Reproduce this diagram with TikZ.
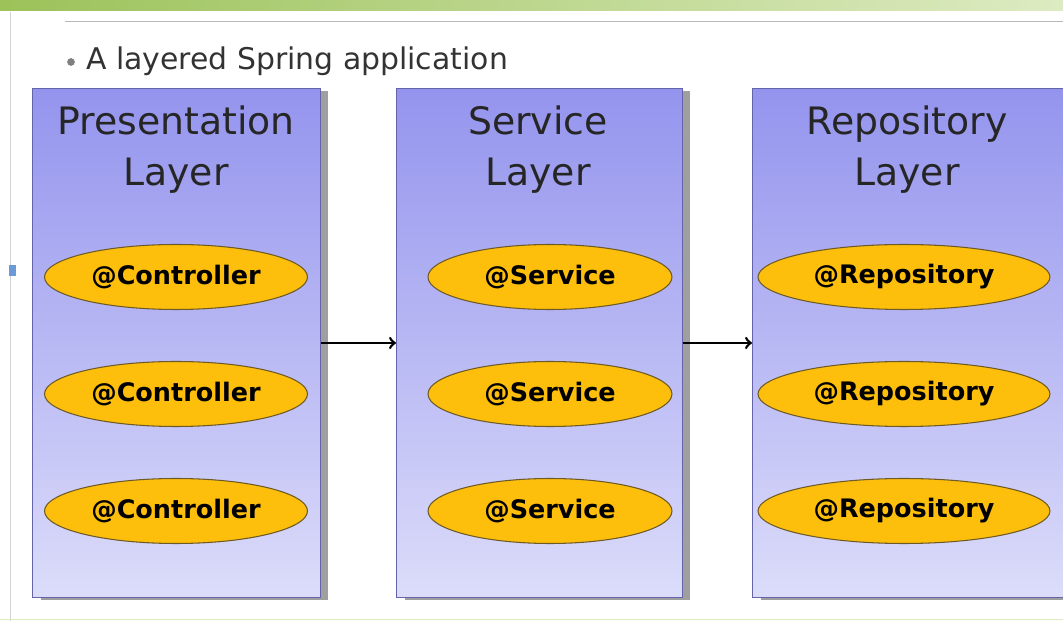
\documentclass[tikz,border=0pt]{standalone}
\usepackage{fontspec}
\setmainfont{DejaVu Sans}
\usetikzlibrary{shapes.geometric, positioning, arrows, shadows}
\definecolor{laytop}{HTML}{9494EE}
\definecolor{laybot}{HTML}{DCDCFA}
\definecolor{layline}{HTML}{6464AA}
\definecolor{beanfill}{HTML}{FDBE0C}
\definecolor{beanline}{HTML}{6E5A24}
\definecolor{leafgreen}{HTML}{9CC25A}
\definecolor{leafpale}{HTML}{DDEBC2}
\tikzset{
    layer/.style={
        draw=layline,
        semithick,
        top color=laytop,
        bottom color=laybot,
        minimum width=5.76cm,
        minimum height=10.18cm,
        inner sep=0pt,
        drop shadow={shadow xshift=0.16cm, shadow yshift=-0.05cm, fill=gray!75, opacity=1}
    },
    bean/.style={
        ellipse,
        draw=beanline,
        line width=0.6pt,
        fill=beanfill,
        minimum width=5.26cm,
        minimum height=1.3cm,
        inner sep=0pt,
        font=\bfseries\fontsize{14.5}{16}\selectfont
    },
    laytitle/.style={align=center, text=black!85, font=\fontsize{21.5}{29}\selectfont},
    every edge/.style={
        draw,
        ->,>=to,
        line width=1.5pt
    }
}

\begin{document}
\begin{tikzpicture}[x=0.02cm,y=-0.02cm]
	\useasboundingbox (0,0) rectangle (1063,621);
	% slide frame
	\fill[left color=leafgreen, right color=leafpale] (0,0) rectangle (1063,11);
	\draw[gray!55] (65,21) -- (1063,21);
	\draw[gray!35] (10,12) -- (10,621);
	\draw[leafpale] (0,619) -- (1063,619);
	\fill[cyan!50!blue!60] (9,265) rectangle (16,276);
	\fill[gray] (71,62) circle (2.2pt);
	\node[anchor=west, text=black!80, font=\fontsize{17}{20}\selectfont] (heading) at (80,61) {A layered Spring application};
	% layers
	\node[layer, anchor=north west] (pres) at (32,88) {};
	\node[layer, anchor=north west, minimum width=5.72cm] (serv) at (396,88) {};
	\node[layer, anchor=north west, minimum width=6.4cm] (repo) at (752,88) {};
	\node[laytitle] (prestitle) at (176,150) {Presentation\\Layer};
	\node[laytitle] (servtitle) at (538,150) {Service\\Layer};
	\node[laytitle] (repotitle) at (907,150) {Repository\\Layer};
	% beans
	\node[bean] (ctrl1) at (176,277) {@Controller};
	\node[bean] (ctrl2) at (176,394) {@Controller};
	\node[bean] (ctrl3) at (176,511) {@Controller};
	\node[bean, minimum width=4.88cm] (svc1) at (550,277) {@Service};
	\node[bean, minimum width=4.88cm] (svc2) at (550,394) {@Service};
	\node[bean, minimum width=4.88cm] (svc3) at (550,511) {@Service};
	\node[bean, minimum width=5.84cm] (rep1) at (904,277) {@Repository};
	\node[bean, minimum width=5.84cm] (rep2) at (904,394) {@Repository};
	\node[bean, minimum width=5.84cm] (rep3) at (904,511) {@Repository};
	\draw
	(pres) edge (serv)
	(serv) edge (repo);
\end{tikzpicture}
\end{document}
